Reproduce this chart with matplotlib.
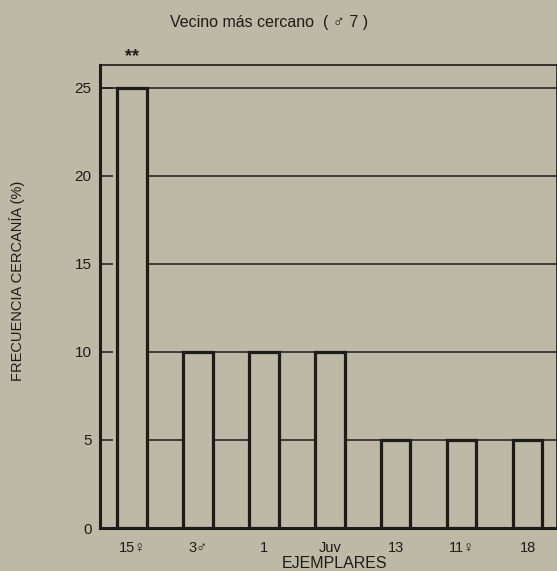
import matplotlib
matplotlib.use('Agg')
import numpy as np
from matplotlib import pyplot as plt

# data
ejemplares = ['15\u2640', '3\u2642', '1', 'Juv', '13', '11\u2640', '18']
frecuencia = [25, 10, 10, 10, 5, 5, 5]
yticks = [0, 5, 10, 15, 20, 25]
grid_levels = [5, 10, 15, 20]

paper = '#bdb9a6'
ink = '#1e1c18'
fonts = ['Liberation Sans Narrow', 'Liberation Sans', 'DejaVu Sans']
plt.rcParams['font.family'] = fonts

fig = plt.figure(figsize=(5.57, 5.71), dpi=100, facecolor=paper)
ax = fig.add_axes([100/557, 43/571, 457/557, 463/571])
ax.set_facecolor(paper)

x = np.arange(len(ejemplares))
width = 0.44
xmin, xmax = -0.485, 6.44

# lines behind the bars
ax.hlines(grid_levels, x[0] + width/2, xmax, color=ink, lw=1.1, zorder=1)
ax.hlines([25], xmin, xmax, color=ink, lw=1.1, zorder=1)

ax.bar(x, frecuencia, width=width, color=paper, edgecolor=ink, linewidth=2.3, zorder=2)

ax.text(x[0], 26.75, '**', ha='center', va='center', fontsize=13, color=ink,
        fontweight='bold', clip_on=False)

ax.set_xlim(xmin, xmax)
ax.set_ylim(0, 26.3)
ax.set_xticks(x)
ax.set_xticklabels(ejemplares, fontsize=10.5, color=ink)
ax.set_yticks(yticks)
ax.set_yticklabels([str(v) for v in yticks], fontsize=11, color=ink)
ax.tick_params(axis='x', length=0, pad=9)
ax.tick_params(axis='y', direction='in', length=9, width=1.1, color=ink, pad=6)

for side in ['left', 'bottom']:
    ax.spines[side].set_linewidth(2.2)
for side in ['top', 'right']:
    ax.spines[side].set_linewidth(1.2)
for s in ax.spines.values():
    s.set_color(ink)

fig.text(335/557, 1 - 563/571, 'EJEMPLARES', ha='center', va='center',
         fontsize=11.5, color=ink)
fig.text(17/557, 1 - 281/571, 'FRECUENCIA CERCANÍA (%)', rotation=90, ha='center',
         va='center', fontsize=10.5, color=ink, family=['Liberation Sans', 'DejaVu Sans'])
fig.text(269/557, 1 - 22/571, 'Vecino más cercano  ( \u2642 7 )', ha='center', va='center',
         fontsize=11.5, color=ink, family=['Liberation Sans', 'DejaVu Sans'])

plt.savefig('out.png', dpi=100, facecolor=paper)
